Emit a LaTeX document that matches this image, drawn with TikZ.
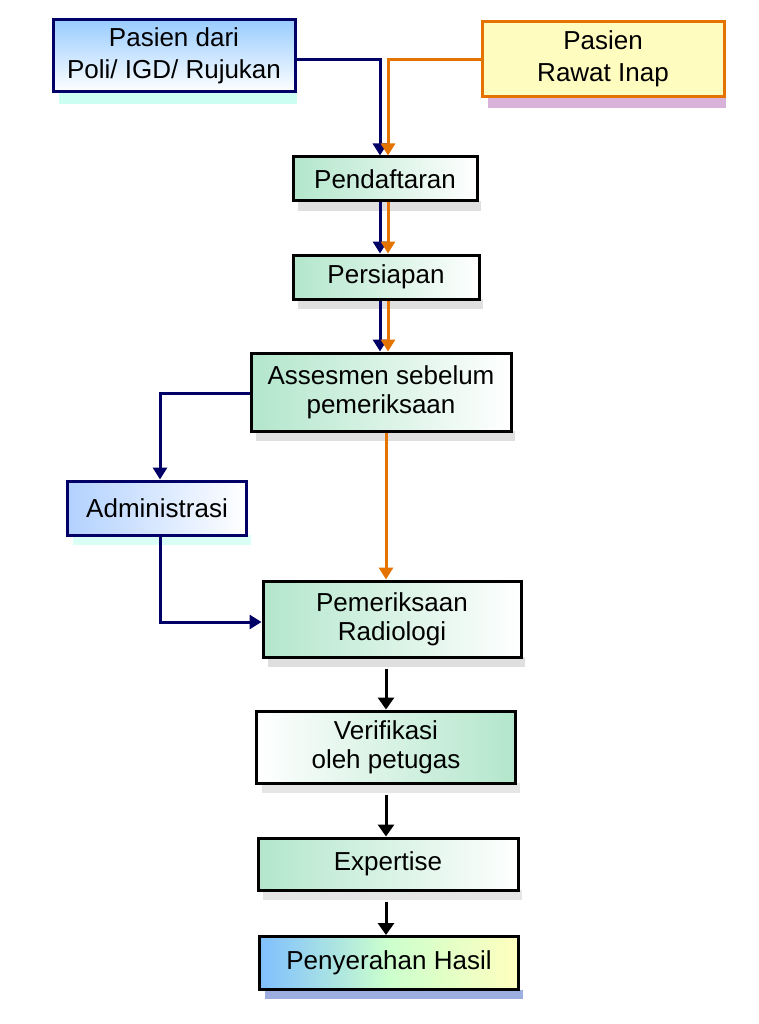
\documentclass[tikz,border=0pt]{standalone}
\usepackage{fontspec}
\setmainfont{Liberation Sans}
\usetikzlibrary{arrows.meta}
\begin{document}
\begin{tikzpicture}[x=1pt,y=-1pt,
  box/.style={draw=black,line width=3pt,left color=green!35!teal!30!white,right color=white,
    align=center,font=\fontsize{26}{29}\selectfont,inner sep=0pt},
  boxr/.style={box,left color=white,right color=green!35!teal!30!white},
  nv/.style={draw=blue!40!black,line width=3pt,-{Triangle[length=12pt,width=14pt]}},
  og/.style={draw=orange!90!black,line width=3pt,-{Triangle[length=12pt,width=14pt]}},
  bk/.style={draw=black,line width=3pt,-{Triangle[length=12pt,width=16pt]}}]
\useasboundingbox (0,0) rectangle (759,1024);
% Poli
\fill[green!25!cyan!20!white] (59,92) rectangle (297,104);
\node[draw=blue!40!black,line width=3pt,top color=cyan!50!blue!40!white,bottom color=white,
  minimum width=242,minimum height=72,align=center,font=\fontsize{26}{32}\selectfont,inner sep=0pt] (poli) at (174,56) {Pasien dari\\Poli/ IGD/ Rujukan};
% Rawat
\fill[violet!30] (488,97) rectangle (726,108);
\node[draw=orange!90!black,line width=3pt,fill=yellow!25,
  minimum width=242,minimum height=75,align=center,font=\fontsize{26}{32}\selectfont,inner sep=0pt] (rawat) at (603,59) {Pasien\\Rawat Inap};
\fill[gray!25] (298,201) rectangle (481,211);
\node[box,minimum width=184,minimum height=44] (daftar) at (385,179) {Pendaftaran};
\fill[gray!25] (298,299) rectangle (483,309);
\node[box,minimum width=186,minimum height=44] (siap) at (386,277) {Persiapan};
\fill[gray!25] (256,431) rectangle (515,441);
\node[box,minimum width=260,minimum height=78] (ases) at (381,392) {Assesmen sebelum\\pemeriksaan};
\fill[green!20!cyan!15!white] (73,535) rectangle (251,545);
\node[draw=blue!40!black,line width=3pt,left color=cyan!40!blue!30!white,right color=white,
  minimum width=179,minimum height=54,font=\fontsize{26}{29}\selectfont,inner sep=0pt] (adm) at (157,508) {Administrasi};
\fill[gray!25] (268,657) rectangle (525,667);
\node[box,minimum width=258,minimum height=76] (periksa) at (392,619) {Pemeriksaan\\Radiologi};
\fill[gray!20] (262,783) rectangle (520,793);
\node[boxr,minimum width=259,minimum height=72] (verif) at (386,747) {Verifikasi\\oleh petugas};
\fill[gray!20] (263,890) rectangle (522,900);
\node[box,minimum width=260,minimum height=52] (exp) at (388,864) {Expertise};
\fill[cyan!40!blue!40!white] (265,990) rectangle (523,999);
\node[box,left color=cyan!50!blue!50!white,right color=yellow!25,middle color=green!20!white,minimum width=259,minimum height=53] (hasil) at (389,963) {Penyerahan Hasil};
% connectors
\coordinate (n1) at (380,60);
\coordinate (o1) at (388,60);
\draw[nv] (poli.east |- n1) -| (daftar.north -| n1);
\draw[og] (rawat.west |- o1) -| (daftar.north -| o1);
\draw[nv] (daftar.south -| n1) -- (siap.north -| n1);
\draw[og] (daftar.south -| o1) -- (siap.north -| o1);
\draw[nv] (siap.south -| n1) -- (ases.north -| n1);
\draw[og] (siap.south -| o1) -- (ases.north -| o1);
\coordinate (a1) at (160,393);
\draw[nv] (ases.west |- a1) -| (adm.north -| a1);
\coordinate (a2) at (160,622);
\draw[nv] (adm.south -| a2) |- (periksa.west |- a2);
\coordinate (o2) at (386,440);
\draw[og] (ases.south -| o2) -- (periksa.north -| o2);
\draw[bk] (periksa.south -| o2) ++(0,10) -- (verif.north -| o2);
\draw[bk] (verif.south -| o2) ++(0,10) -- (exp.north -| o2);
\draw[bk] (exp.south -| o2) ++(0,10) -- (hasil.north -| o2);
\end{tikzpicture}
\end{document}
